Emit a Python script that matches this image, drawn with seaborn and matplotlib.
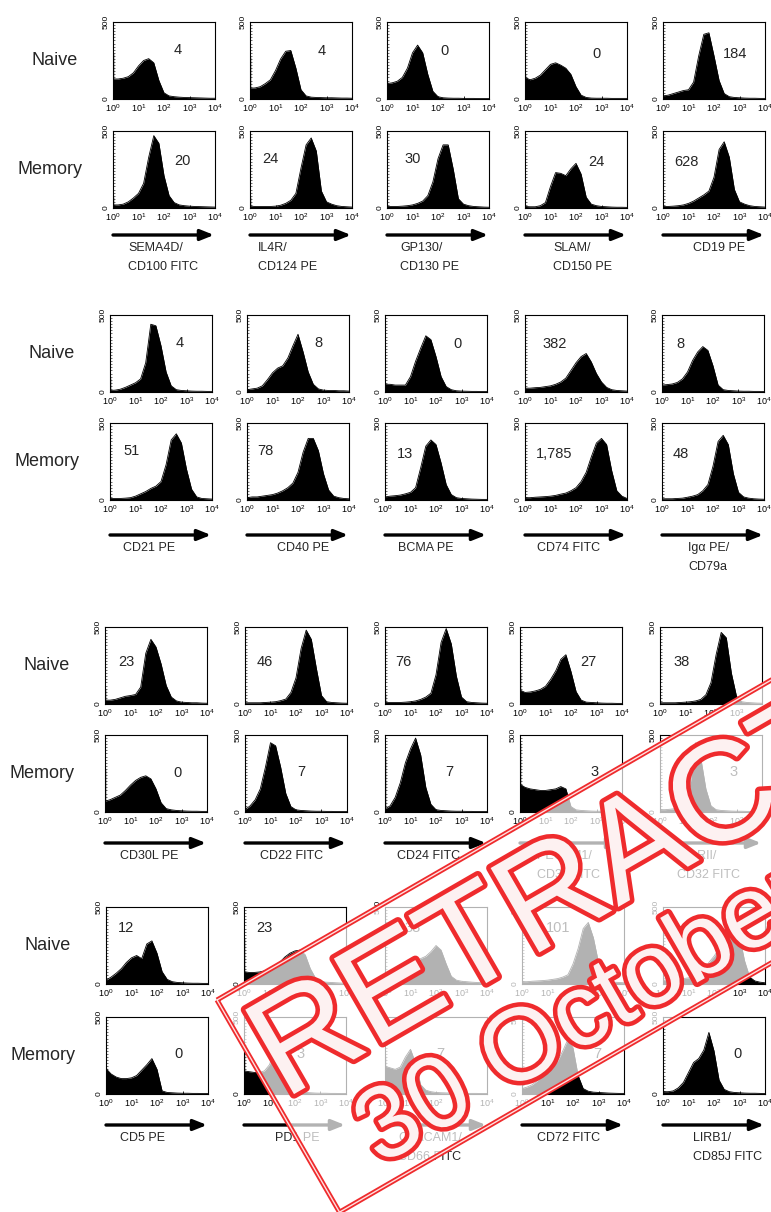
import math
import numpy as np
import matplotlib
matplotlib.use("Agg")
import matplotlib.pyplot as plt
import matplotlib.patches as mpatches
import matplotlib.patheffects as pe
from matplotlib.ticker import LogLocator, MultipleLocator, NullFormatter
import seaborn as sns

# ---------------- data (counts) ----------------
# fluorescence channels, 10^0 .. 10^4 in steps of 0.2 decade
log_ch = np.arange(0, 4.01, 0.2)
channels = 10 ** log_ch

# block 1
labels_b1 = ["SEMA4D/\nCD100 FITC", "IL4R/\nCD124 PE", "GP130/\nCD130 PE", "SLAM/\nCD150 PE", "CD19 PE"]
mfi_naive_b1 = ["4", "4", "0", "0", "184"]
mfi_memory_b1 = ["20", "24", "30", "24", "628"]
naive_b1 = [
    [130, 130, 135, 145, 170, 215, 250, 262, 235, 120, 40, 20, 15, 12, 10, 9, 8, 7, 6, 5, 5],
    [70, 72, 80, 100, 125, 185, 260, 310, 315, 200, 60, 20, 12, 10, 9, 8, 8, 7, 6, 6, 5],
    [100, 105, 115, 140, 200, 300, 350, 300, 160, 50, 15, 8, 6, 5, 5, 4, 4, 4, 3, 3, 3],
    [140, 125, 135, 155, 190, 225, 235, 220, 200, 160, 80, 25, 10, 6, 5, 5, 5, 4, 4, 4, 4],
    [20, 25, 35, 45, 55, 60, 110, 280, 420, 430, 280, 120, 35, 15, 10, 8, 6, 5, 5, 4, 4],
]
memory_b1 = [
    [20, 20, 25, 40, 65, 95, 160, 330, 470, 420, 210, 80, 35, 20, 15, 12, 10, 9, 8, 7, 6],
    [12, 10, 10, 10, 10, 12, 18, 30, 50, 95, 260, 410, 455, 370, 110, 40, 25, 15, 10, 8, 6],
    [10, 10, 10, 12, 15, 20, 30, 45, 80, 170, 320, 410, 410, 250, 60, 25, 15, 10, 8, 6, 5],
    [10, 8, 8, 15, 35, 140, 230, 225, 210, 255, 290, 220, 70, 25, 15, 10, 8, 6, 5, 5, 4],
    [10, 10, 12, 15, 20, 30, 45, 65, 85, 110, 200, 380, 430, 330, 120, 40, 25, 15, 10, 8, 6],
]
spike_naive_b1 = [300, 273, 115, 160, 20]
spike_memory_b1 = [70, 70, 10, 10, 10]

# block 2
labels_b2 = ["CD21 PE", "CD40 PE", "BCMA PE", "CD74 FITC", "Igα PE/\nCD79a"]
mfi_naive_b2 = ["4", "8", "0", "382", "8"]
mfi_memory_b2 = ["51", "78", "13", "1,785", "48"]
naive_b2 = [
    [10, 12, 18, 30, 45, 60, 85, 190, 440, 430, 300, 130, 40, 15, 10, 8, 6, 5, 5, 4, 4],
    [15, 20, 25, 40, 80, 125, 155, 170, 220, 300, 375, 260, 130, 50, 20, 12, 10, 10, 8, 8, 6],
    [50, 50, 45, 45, 45, 100, 200, 285, 365, 340, 230, 100, 35, 15, 8, 6, 5, 4, 4, 3, 3],
    [25, 25, 28, 30, 35, 40, 50, 65, 90, 140, 190, 230, 250, 195, 120, 65, 30, 15, 10, 8, 6],
    [45, 48, 52, 62, 85, 130, 205, 260, 295, 270, 170, 45, 15, 10, 8, 6, 5, 5, 4, 4, 3],
]
memory_b2 = [
    [10, 10, 10, 12, 15, 25, 40, 55, 75, 90, 120, 230, 390, 430, 370, 200, 70, 20, 10, 8, 6],
    [15, 20, 20, 25, 30, 35, 45, 60, 80, 110, 180, 310, 400, 400, 320, 170, 65, 25, 15, 10, 8],
    [20, 25, 28, 32, 40, 50, 80, 210, 350, 390, 360, 240, 100, 35, 15, 10, 8, 6, 5, 4, 4],
    [15, 15, 18, 20, 22, 25, 30, 38, 45, 60, 80, 120, 180, 280, 370, 400, 360, 190, 60, 25, 10],
    [8, 8, 8, 10, 12, 18, 25, 35, 60, 100, 220, 380, 420, 360, 170, 50, 20, 12, 8, 6, 5],
]
spike_naive_b2 = [90, 20, 60, 25, 45]
spike_memory_b2 = [10, 20, 20, 15, 8]

# block 3
labels_b3 = ["CD30L PE", "CD22 FITC", "CD24 FITC", "PECAM1/\nCD31 FITC", "FcγRII/\nCD32 FITC"]
mfi_naive_b3 = ["23", "46", "76", "27", "38"]
mfi_memory_b3 = ["0", "7", "7", "3", "3"]
naive_b3 = [
    [25, 25, 30, 40, 50, 55, 62, 110, 330, 420, 370, 260, 120, 45, 20, 12, 10, 8, 8, 6, 5],
    [8, 8, 8, 8, 10, 12, 15, 22, 32, 75, 170, 360, 480, 420, 230, 55, 15, 10, 8, 6, 5],
    [10, 10, 10, 10, 12, 15, 20, 30, 45, 70, 190, 400, 490, 390, 180, 45, 15, 10, 8, 6, 5],
    [90, 75, 78, 85, 95, 115, 160, 215, 290, 320, 210, 80, 25, 12, 10, 8, 6, 5, 5, 4, 4],
    [8, 8, 8, 8, 10, 12, 15, 20, 30, 60, 140, 320, 465, 430, 200, 50, 15, 10, 8, 6, 5],
]
memory_b3 = [
    [70, 80, 95, 110, 140, 175, 205, 225, 235, 215, 150, 60, 22, 14, 10, 8, 6, 5, 5, 4, 4],
    [15, 40, 80, 150, 290, 450, 430, 290, 120, 35, 14, 10, 8, 6, 5, 5, 4, 4, 3, 3, 3],
    [20, 40, 95, 190, 320, 410, 480, 370, 160, 50, 15, 10, 8, 6, 5, 5, 4, 4, 3, 3, 3],
    [180, 160, 150, 145, 140, 140, 145, 150, 165, 150, 35, 14, 10, 8, 6, 5, 5, 4, 4, 3, 3],
    [15, 15, 18, 22, 35, 70, 200, 450, 350, 150, 40, 15, 10, 8, 6, 5, 5, 4, 4, 3, 3],
]
spike_naive_b3 = [95, 8, 65, 200, 8]
spike_memory_b3 = [280, 40, 360, 450, 15]

# block 4
labels_b4 = ["CD5 PE", "PD1 PE", "CEACAM1/\nCD66 FITC", "CD72 FITC", "LIRB1/\nCD85J FITC"]
mfi_naive_b4 = ["12", "23", "38", "101", "45"]
mfi_memory_b4 = ["0", "3", "7", "7", "0"]
naive_b4 = [
    [25, 45, 70, 100, 140, 170, 185, 165, 260, 280, 200, 80, 30, 15, 10, 8, 6, 5, 5, 4, 4],
    [80, 75, 75, 78, 85, 95, 110, 140, 175, 200, 215, 220, 190, 100, 40, 20, 12, 10, 8, 6, 5],
    [75, 70, 75, 85, 100, 120, 145, 165, 180, 210, 250, 220, 130, 50, 25, 18, 15, 12, 10, 8, 6],
    [15, 15, 18, 20, 22, 25, 30, 35, 45, 60, 130, 230, 360, 400, 300, 140, 45, 20, 12, 10, 8],
    [25, 25, 28, 30, 35, 40, 50, 60, 90, 140, 180, 230, 300, 360, 390, 310, 150, 45, 20, 12, 8],
]
memory_b4 = [
    [165, 130, 110, 100, 100, 105, 120, 155, 190, 230, 160, 20, 10, 8, 6, 5, 5, 4, 4, 3, 3],
    [150, 145, 140, 140, 150, 190, 290, 340, 320, 180, 50, 15, 10, 8, 6, 5, 5, 4, 4, 3, 3],
    [180, 170, 160, 175, 240, 290, 200, 60, 25, 15, 10, 8, 7, 6, 5, 5, 4, 4, 4, 3, 3],
    [35, 45, 60, 85, 115, 150, 180, 215, 280, 355, 300, 120, 35, 18, 12, 10, 8, 6, 5, 4, 4],
    [15, 15, 20, 40, 75, 140, 205, 230, 285, 400, 280, 90, 30, 15, 10, 8, 6, 5, 5, 4, 3],
]
spike_naive_b4 = [25, 300, 80, 15, 25]
spike_memory_b4 = [170, 320, 250, 35, 15]

# ---------------- layout (pixels of the 771x1212 canvas) ----------------
W, H = 771, 1212
AX_W, AX_H = 102, 77
col_left = [[113, 250, 387, 525, 663], [110, 247, 385, 525, 662],
            [105, 245, 385, 520, 660], [106, 244, 385, 522, 663]]
row_top = [(22, 131), (315, 423), (627, 735), (907, 1017)]
arrow_y = [235, 535, 843, 1125]
label_dx = [[15, 8, 13, 28, 30], [13, 30, 13, 12, 26], [15, 15, 12, 17, 17], [14, 31, 13, 15, 30]]
num_pos_naive = [
    [(0.63, 0.64), (0.70, 0.62), (0.56, 0.62), (0.70, 0.58), (0.71, 0.58)],
    [(0.68, 0.63), (0.70, 0.63), (0.71, 0.62), (0.29, 0.62), (0.18, 0.62)],
    [(0.21, 0.54), (0.19, 0.54), (0.18, 0.55), (0.67, 0.55), (0.21, 0.55)],
    [(0.20, 0.73), (0.20, 0.73), (0.27, 0.73), (0.35, 0.73), (0.25, 0.73)],
]
num_pos_memory = [
    [(0.68, 0.61), (0.20, 0.64), (0.25, 0.64), (0.70, 0.60), (0.23, 0.60)],
    [(0.21, 0.64), (0.18, 0.64), (0.20, 0.60), (0.29, 0.60), (0.18, 0.60)],
    [(0.71, 0.51), (0.55, 0.52), (0.63, 0.52), (0.73, 0.52), (0.72, 0.52)],
    [(0.71, 0.52), (0.55, 0.52), (0.54, 0.52), (0.74, 0.52), (0.73, 0.52)],
]

sns.set_theme(style="ticks")
plt.rcParams["font.family"] = ["Liberation Sans", "DejaVu Sans"]
plt.rcParams["mathtext.fontset"] = "custom"
plt.rcParams["mathtext.rm"] = "Liberation Sans"
plt.rcParams["mathtext.it"] = "Liberation Sans:italic"
plt.rcParams["mathtext.bf"] = "Liberation Sans:bold"

fig = plt.figure(figsize=(W / 100, H / 100), dpi=100)
fig.patch.set_facecolor("white")


def fx(x):
    return x / W


def fy(y):
    return 1 - y / H


def histo(left, top, heights, spike, num, pos):
    ax = fig.add_axes([fx(left), fy(top + AX_H), AX_W / W, AX_H / H])
    sns.lineplot(x=channels, y=heights, ax=ax, color="black", lw=0.6)
    ax.fill_between(channels, 0, heights, color="black", lw=0)
    ax.vlines(1.04, 0, spike, color="black", lw=1.0)
    ax.set_xscale("log")
    ax.set_xlim(1, 1e4)
    ax.set_ylim(0, 500)
    ax.set_xticks([1, 10, 100, 1000, 10000])
    ax.set_xticklabels([r"$\mathregular{10^{%d}}$" % i for i in range(5)], fontsize=6.5)
    ax.xaxis.set_minor_locator(LogLocator(base=10, subs=np.arange(2, 10)))
    ax.xaxis.set_minor_formatter(NullFormatter())
    ax.set_yticks([0, 500])
    ax.set_yticklabels(["0", "500"], rotation=90, va="center", fontsize=6)
    ax.yaxis.set_minor_locator(MultipleLocator(20))
    ax.tick_params(which="major", direction="in", length=2.5, width=0.6, pad=2.2, colors="black")
    ax.tick_params(which="minor", direction="in", length=1.5, width=0.4, colors="black")
    for s in ax.spines.values():
        s.set_color("black")
        s.set_linewidth(0.8)
        s.set_visible(True)
    ax.set_xlabel("")
    ax.set_ylabel("")
    ax.text(pos[0], pos[1], num, transform=ax.transAxes, ha="center", va="center", fontsize=10.5)
    return ax


blocks = [
    (labels_b1, naive_b1, memory_b1, spike_naive_b1, spike_memory_b1, mfi_naive_b1, mfi_memory_b1),
    (labels_b2, naive_b2, memory_b2, spike_naive_b2, spike_memory_b2, mfi_naive_b2, mfi_memory_b2),
    (labels_b3, naive_b3, memory_b3, spike_naive_b3, spike_memory_b3, mfi_naive_b3, mfi_memory_b3),
    (labels_b4, naive_b4, memory_b4, spike_naive_b4, spike_memory_b4, mfi_naive_b4, mfi_memory_b4),
]

for b, (labels, naive, memory, sp_n, sp_m, mfi_n, mfi_m) in enumerate(blocks):
    t_n, t_m = row_top[b]
    first = col_left[b][0]
    fig.text(fx(first - 58), fy(t_n + AX_H / 2), "Naive", ha="center", va="center", fontsize=13)
    fig.text(fx(first - 63), fy(t_m + AX_H / 2), "Memory", ha="center", va="center", fontsize=13)
    for c in range(5):
        left = col_left[b][c]
        histo(left, t_n, naive[c], sp_n[c], mfi_n[c], num_pos_naive[b][c])
        histo(left, t_m, memory[c], sp_m[c], mfi_m[c], num_pos_memory[b][c])
        # marker arrow
        arr = mpatches.FancyArrowPatch((fx(left), fy(arrow_y[b])), (fx(left + 101), fy(arrow_y[b])),
                                       transform=fig.transFigure,
                                       arrowstyle="-|>,head_length=0.4,head_width=0.16",
                                       mutation_scale=20, lw=2.4, color="black",
                                       shrinkA=0, shrinkB=0)
        fig.add_artist(arr)
        for k, line in enumerate(labels[c].split("\n")):
            fig.text(fx(left + label_dx[b][c]), fy(arrow_y[b] + 13 + 19 * k), line,
                     ha="left", va="center", fontsize=9)

# ---------------- retraction stamp overlay ----------------
red = "#ef2b2d"
ang = math.radians(30)
U = np.array([math.cos(ang), -math.sin(ang)])
V = np.array([math.sin(ang), math.cos(ang)])
P0 = np.array([217.0, 1000.0])
corners = [P0, P0 + 900 * U, P0 + 900 * U + 245 * V, P0 + 245 * V]
poly_pts = [(fx(p[0]), fy(p[1])) for p in corners]

fig.add_artist(mpatches.Polygon(poly_pts, closed=True, transform=fig.transFigure,
                                facecolor="white", alpha=0.7, edgecolor="none", zorder=20))
fig.add_artist(mpatches.Polygon(poly_pts, closed=True, transform=fig.transFigure,
                                fill=False, edgecolor=red, lw=3.6, zorder=21))
fig.add_artist(mpatches.Polygon(poly_pts, closed=True, transform=fig.transFigure,
                                fill=False, edgecolor="#ffe0e0", lw=1.0, zorder=21))

p_title = P0 + 8 * U + 120 * V
fig.text(fx(p_title[0]), fy(p_title[1]), "RETRACTED", rotation=30, rotation_mode="anchor",
         ha="left", va="baseline", fontsize=102, color="#fdf1f1", zorder=22,
         path_effects=[pe.withStroke(linewidth=6.5, foreground=red)])
p_date = P0 + 58 * U + 225 * V
fig.text(fx(p_date[0]), fy(p_date[1]), "30 October 2019", rotation=30, rotation_mode="anchor",
         ha="left", va="baseline", fontsize=74, color="#fdf1f1", zorder=22,
         path_effects=[pe.withStroke(linewidth=6.5, foreground=red)])

fig.savefig("out.png", dpi=100)
